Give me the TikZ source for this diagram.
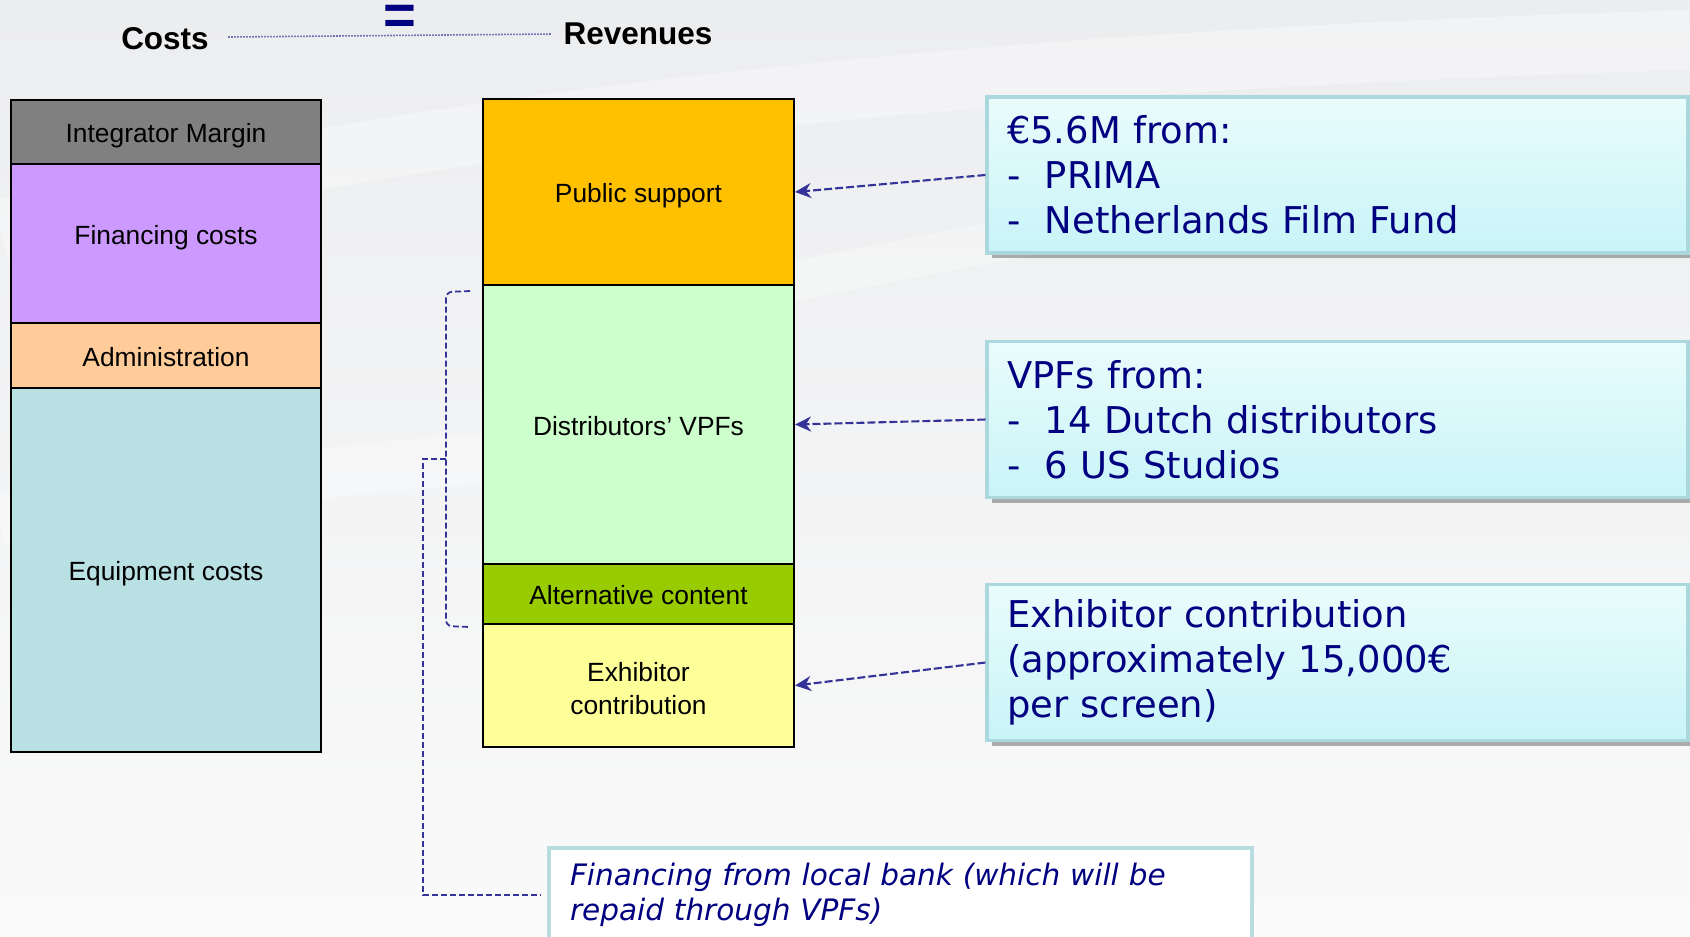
\documentclass[tikz,border=0pt]{standalone}
\usepackage{fontspec}
\setmainfont{Liberation Sans}
\newfontfamily\verd{DejaVu Sans}
\usetikzlibrary{arrows.meta,shadows}
\definecolor{navy}{RGB}{0,0,128}
\definecolor{arrowblue}{RGB}{51,51,153}
\definecolor{bgtop}{RGB}{236,237,239}
\definecolor{bgbot}{RGB}{250,250,250}
\definecolor{imgray}{RGB}{128,128,128}
\definecolor{fcviolet}{RGB}{204,153,255}
\definecolor{adorange}{RGB}{255,204,153}
\definecolor{eqteal}{RGB}{185,224,227}
\definecolor{psyellow}{RGB}{255,192,0}
\definecolor{dvgreen}{RGB}{204,255,204}
\definecolor{acgreen}{RGB}{153,204,0}
\definecolor{ecyellow}{RGB}{255,255,153}
\definecolor{cyantop}{RGB}{234,252,252}
\definecolor{cyanbot}{RGB}{200,244,248}
\definecolor{calloutborder}{RGB}{170,216,220}
\definecolor{bankborder}{RGB}{183,221,224}
\begin{document}
\begin{tikzpicture}[x=0.1mm,y=-0.1mm,
  stackbox/.style={draw=black, line width=0.6pt, inner sep=0pt, align=center,
    font=\fontsize{7.5}{9.4}\selectfont, text=black},
  oneline/.style={text height=7pt, text depth=1pt},
  leftbox/.style={stackbox, minimum width=31mm},
  midbox/.style={stackbox, minimum width=31.1mm},
  title/.style={inner sep=0pt, font=\bfseries\fontsize{8.96}{10}\selectfont, text=black},
  callout/.style={draw=calloutborder, line width=0.9pt, top color=cyantop, bottom color=cyanbot,
    text width=66.1mm, inner xsep=2mm, inner ysep=0pt, minimum height=15.6mm, align=left,
    font=\verd\fontsize{10.5}{12.8}\selectfont, text=navy,
    drop shadow={shadow xshift=0.5mm, shadow yshift=-0.5mm, fill=black, opacity=0.3}},
  bankbox/.style={draw=bankborder, line width=1.1pt, fill=white,
    text width=66.1mm, inner xsep=2.1mm, inner ysep=0pt, minimum height=9.4mm, align=left,
    font=\verd\itshape\fontsize{8.4}{9.9}\selectfont, text=navy},
  arr/.style={draw=arrowblue, line width=0.6pt, dash pattern=on 0.8mm off 0.3mm,
    -{Stealth[length=1.6mm,width=1.5mm,fill=arrowblue]}},
  bracketline/.style={draw=arrowblue, line width=0.5pt, dash pattern=on 0.6mm off 0.3mm},
  dotline/.style={draw=arrowblue, line width=0.45pt, dash pattern=on 0.12mm off 0.18mm}
]
\clip (0,0) rectangle (1690,936);
\fill[top color=bgtop, bottom color=bgbot] (0,0) rectangle (1690,936);
% faint swirls of the background
\draw[white, line width=6mm, opacity=0.35] (0,230) .. controls (400,120) and (1000,60) .. (1690,40);
\draw[white, line width=4mm, opacity=0.3] (700,300) .. controls (1100,220) and (1400,160) .. (1690,150);
\draw[white, line width=5mm, opacity=0.3] (0,520) .. controls (300,470) and (500,450) .. (700,450);

% titles
\node[title] (costs) at (165,39) {Costs};
\node[title] (rev) at (638,34) {Revenues};
\node[inner sep=0pt, text=navy, font=\bfseries\fontsize{16}{17}\selectfont] (eq) at (400,20) {=};
\draw[dotline] ([xshift=1.9mm,yshift=0.2mm]costs.east) -- ([xshift=-1.2mm]rev.west);

% costs stack
\node[leftbox, oneline, fill=imgray, minimum height=6.4mm] (im) at (166,132) {Integrator Margin};
\node[leftbox, text height=5.4pt, text depth=4.8pt, fill=fcviolet, minimum height=15.9mm] (fc) at (166,243.5) {Financing costs};
\node[leftbox, oneline, fill=adorange, minimum height=6.5mm] (ad) at (166,355.5) {Administration};
\node[leftbox, oneline, fill=eqteal, minimum height=36.4mm] (eqc) at (166,570) {Equipment costs};

% revenues stack
\node[midbox, oneline, fill=psyellow, minimum height=18.6mm] (ps) at (638.5,192) {Public support};
\node[midbox, oneline, fill=dvgreen, minimum height=27.9mm] (dv) at (638.5,424.5) {Distributors’ VPFs};
\node[midbox, oneline, fill=acgreen, minimum height=6.0mm] (ac) at (638.5,594) {Alternative content};
\node[midbox, fill=ecyellow, minimum height=12.3mm] (ec) at (638.5,685.5) {\rule{0pt}{7pt}Exhibitor\\contribution};

% callouts
\node[callout] (c1) at (1337.5,175) {€5.6M from:\\\makebox[3.8mm][l]{-}PRIMA\\\makebox[3.8mm][l]{-}Netherlands Film Fund};
\node[callout] (c2) at (1337.5,419.5) {VPFs from:\\\makebox[3.8mm][l]{-}14 Dutch distributors\\\makebox[3.8mm][l]{-}6 US Studios};
\node[callout] (c3) at (1337.5,662.5) {Exhibitor contribution\\(approximately 15,000€\\per screen)};

\draw[arr] (c1.west) -- (ps.east);
\draw[arr] (c2.west) -- (dv.east);
\draw[arr] (c3.west) -- (ec.east);

% bank box
\node[bankbox] (bank) at (900.5,895) {Financing from local bank (which will be\\repaid through VPFs)};

% bracket
\coordinate (btop) at (470,291);
\coordinate (bbot) at (470,627);
\coordinate (bmid) at (446,459);
\coordinate (bleft) at (423,459);
\draw[bracketline, rounded corners=0.6mm] (btop) -- (446,292) -- (bmid) -- (446,626) -- (bbot);
\draw[bracketline] (bmid) -- (bleft) -- (bleft |- bank.west) -- ([xshift=-0.6mm]bank.west);
\end{tikzpicture}
\end{document}
